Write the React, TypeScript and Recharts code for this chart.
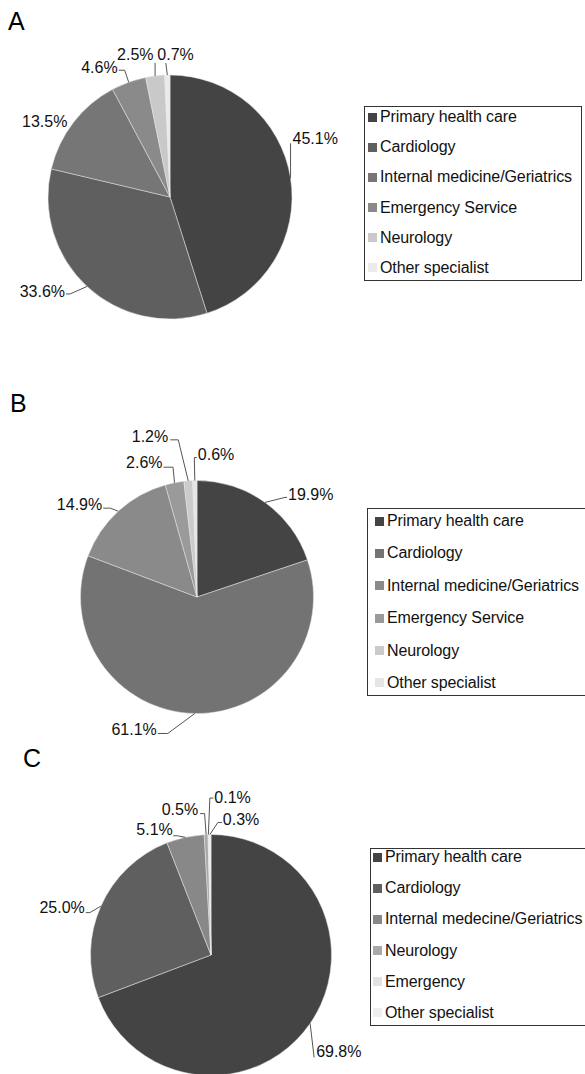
import { PieChart, Pie, Legend } from 'recharts'

const categoriesA = ['Primary health care', 'Cardiology', 'Internal medicine/Geriatrics', 'Emergency Service', 'Neurology', 'Other specialist']
const valuesA = [45.1, 33.6, 13.5, 4.6, 2.5, 0.7]
const colorsA = ['#444444', '#5f5f5f', '#767676', '#8a8a8a', '#c9c9c9', '#ebebeb']

const categoriesB = ['Primary health care', 'Cardiology', 'Internal medicine/Geriatrics', 'Emergency Service', 'Neurology', 'Other specialist']
const valuesB = [19.9, 61.1, 14.9, 2.6, 1.2, 0.6]
const colorsB = ['#444444', '#737373', '#8a8a8a', '#9a9a9a', '#cbcbcb', '#e6e6e6']

const categoriesC = ['Primary health care', 'Cardiology', 'Internal medecine/Geriatrics', 'Neurology', 'Emergency', 'Other specialist']
const valuesC = [69.8, 25.0, 5.1, 0.5, 0.1, 0.3]
const colorsC = ['#444444', '#5f5f5f', '#888888', '#a9a9a9', '#e2e2e2', '#efefef']

const FONT = '"Liberation Sans", Arial, Helvetica, sans-serif'
const RADIAN = Math.PI / 180

type Leader = { pts: [number, number][]; dx: number; dy: number; anchor: 'start' | 'end' }

// leader lines for the percentage labels, relative to the point where the slice middle meets the rim
const leadersA: Leader[] = [
  { pts: [[0, 0], [0, -35]], dx: 2, dy: -34, anchor: 'start' },
  { pts: [[0, 0], [-17, 7.5], [-21, 7.5]], dx: -22, dy: 10.5, anchor: 'end' },
  { pts: [], dx: -6, dy: 4.5, anchor: 'end' },
  { pts: [[0, 0], [-4, -12], [-10, -12]], dx: -11, dy: -9, anchor: 'end' },
  { pts: [[0, 0], [0, -13]], dx: -1.5, dy: -16, anchor: 'end' },
  { pts: [[0, 0], [-1.5, -12]], dx: -10, dy: -15, anchor: 'start' },
]
const leadersB: Leader[] = [
  { pts: [[0, 0], [20, -5], [22, -5]], dx: 23, dy: -2, anchor: 'start' },
  { pts: [[0, 0], [-27, 20], [-37, 20]], dx: -38, dy: 21.5, anchor: 'end' },
  { pts: [[0, 0], [-8, -3], [-15, -3]], dx: -16, dy: -1, anchor: 'end' },
  { pts: [[0, 0], [-1.5, -15.5], [-11, -15.5]], dx: -12, dy: -14.5, anchor: 'end' },
  { pts: [[0, 0], [-10, -41], [-18, -41]], dx: -20, dy: -39, anchor: 'end' },
  { pts: [[0, 0], [-0.5, -23], [2, -23]], dx: 3, dy: -21, anchor: 'start' },
]
const leadersC: Leader[] = [
  { pts: [[0, 0], [4, 34]], dx: 6, dy: 33.6, anchor: 'start' },
  { pts: [[0, 0], [-11, 6.5], [-15, 6.5]], dx: -16, dy: 7, anchor: 'end' },
  { pts: [[0, 0], [-8, -1.5], [-12, -1.5]], dx: -12.5, dy: -2.5, anchor: 'end' },
  { pts: [[0, 0], [-1.5, -21], [-6, -21]], dx: -8, dy: -20, anchor: 'end' },
  { pts: [[0, 0], [1.5, -36.5], [5, -36.5]], dx: 6, dy: -31.5, anchor: 'start' },
  { pts: [[0, 0], [8, -12], [12, -12]], dx: 13, dy: -10, anchor: 'start' },
]

function makeLabel(leaders: Leader[]) {
  return (props: any) => {
    const { cx, cy, midAngle, outerRadius, index, value } = props
    const ex = cx + outerRadius * Math.cos(-midAngle * RADIAN)
    const ey = cy + outerRadius * Math.sin(-midAngle * RADIAN)
    const l = leaders[index]
    return (
      <g key={`lbl-${index}`}>
        {l.pts.length > 1 && (
          <polyline
            points={l.pts.map(([x, y]) => `${ex + x},${ey + y}`).join(' ')}
            fill="none"
            stroke="#555"
            strokeWidth={1}
          />
        )}
        <text x={ex + l.dx} y={ey + l.dy} textAnchor={l.anchor} fontSize={16} fontFamily={FONT} fill="#111">
          {Number(value).toFixed(1)}%
        </text>
      </g>
    )
  }
}

interface LegendBoxProps {
  names: string[]
  colors: string[]
  padTop: number
  gap: number
  indent: number
}

function LegendBox({ names, colors, padTop, gap, indent }: LegendBoxProps) {
  return (
    <div
      style={{
        border: '1px solid #333',
        background: '#fff',
        paddingTop: padTop,
        paddingBottom: 4,
        display: 'flex',
        flexDirection: 'column',
        gap,
        fontFamily: FONT,
        fontSize: 16,
        letterSpacing: '-0.1px',
        color: '#111',
      }}
    >
      {names.map((n, i) => (
        <div key={n} style={{ display: 'flex', alignItems: 'center', height: 16, lineHeight: '16px', whiteSpace: 'nowrap' }}>
          <span style={{ width: 9, height: 9, background: colors[i], marginLeft: indent, marginRight: 3, flex: 'none' }} />
          {n}
        </div>
      ))}
    </div>
  )
}

interface PanelProps {
  top: number
  height: number
  title: string
  titleX: number
  titleTop: number
  names: string[]
  values: number[]
  colors: string[]
  leaders: Leader[]
  cx: number
  cy: number
  r: number
  legendLeft: number
  legendTop: number
  legendWidth: number
  padTop: number
  gap: number
  indent: number
}

function Panel(p: PanelProps) {
  const data = p.names.map((name, i) => ({ name, value: p.values[i], fill: p.colors[i] }))
  return (
    <div style={{ position: 'absolute', left: 0, top: p.top, width: 585, height: p.height }}>
      <div
        style={{
          position: 'absolute',
          left: p.titleX,
          top: p.titleTop,
          fontFamily: FONT,
          fontSize: 25,
          lineHeight: '26px',
          color: '#000',
        }}
      >
        {p.title}
      </div>
      <PieChart width={585} height={p.height} margin={{ top: 0, right: 0, bottom: 0, left: 0 }}>
        <Pie
          data={data}
          dataKey="value"
          nameKey="name"
          cx={p.cx}
          cy={p.cy}
          outerRadius={p.r}
          startAngle={90}
          endAngle={-270}
          stroke="#e6e6e6"
          strokeWidth={0.5}
          label={makeLabel(p.leaders)}
          labelLine={false}
          isAnimationActive={false}
        />
        <Legend
          layout="vertical"
          align="right"
          verticalAlign="top"
          wrapperStyle={{ position: 'absolute', left: p.legendLeft, top: p.legendTop, right: 'auto', width: p.legendWidth }}
          content={() => <LegendBox names={p.names} colors={p.colors} padTop={p.padTop} gap={p.gap} indent={p.indent} />}
        />
      </PieChart>
    </div>
  )
}

export default function App() {
  return (
    <div style={{ position: 'relative', width: 585, height: 1074, background: '#fff', overflow: 'hidden' }}>
      <style>{'html, body { margin: 0; padding: 0; overflow: hidden; }'}</style>
      <Panel
        top={0} height={360} title="A" titleX={8} titleTop={8}
        names={categoriesA} values={valuesA} colors={colorsA} leaders={leadersA}
        cx={170} cy={197} r={122}
        legendLeft={364} legendTop={106} legendWidth={218} padTop={2} gap={14.2} indent={3}
      />
      <Panel
        top={360} height={392} title="B" titleX={10} titleTop={30}
        names={categoriesB} values={valuesB} colors={colorsB} leaders={leadersB}
        cx={197} cy={237} r={116.5}
        legendLeft={367} legendTop={148} legendWidth={240} padTop={4} gap={16.4} indent={7}
      />
      <Panel
        top={730} height={344} title="C" titleX={23} titleTop={15}
        names={categoriesC} values={valuesC} colors={colorsC} leaders={leadersC}
        cx={211} cy={225} r={120.5}
        legendLeft={370} legendTop={118} legendWidth={240} padTop={0} gap={15.2} indent={2}
      />
    </div>
  )
}
